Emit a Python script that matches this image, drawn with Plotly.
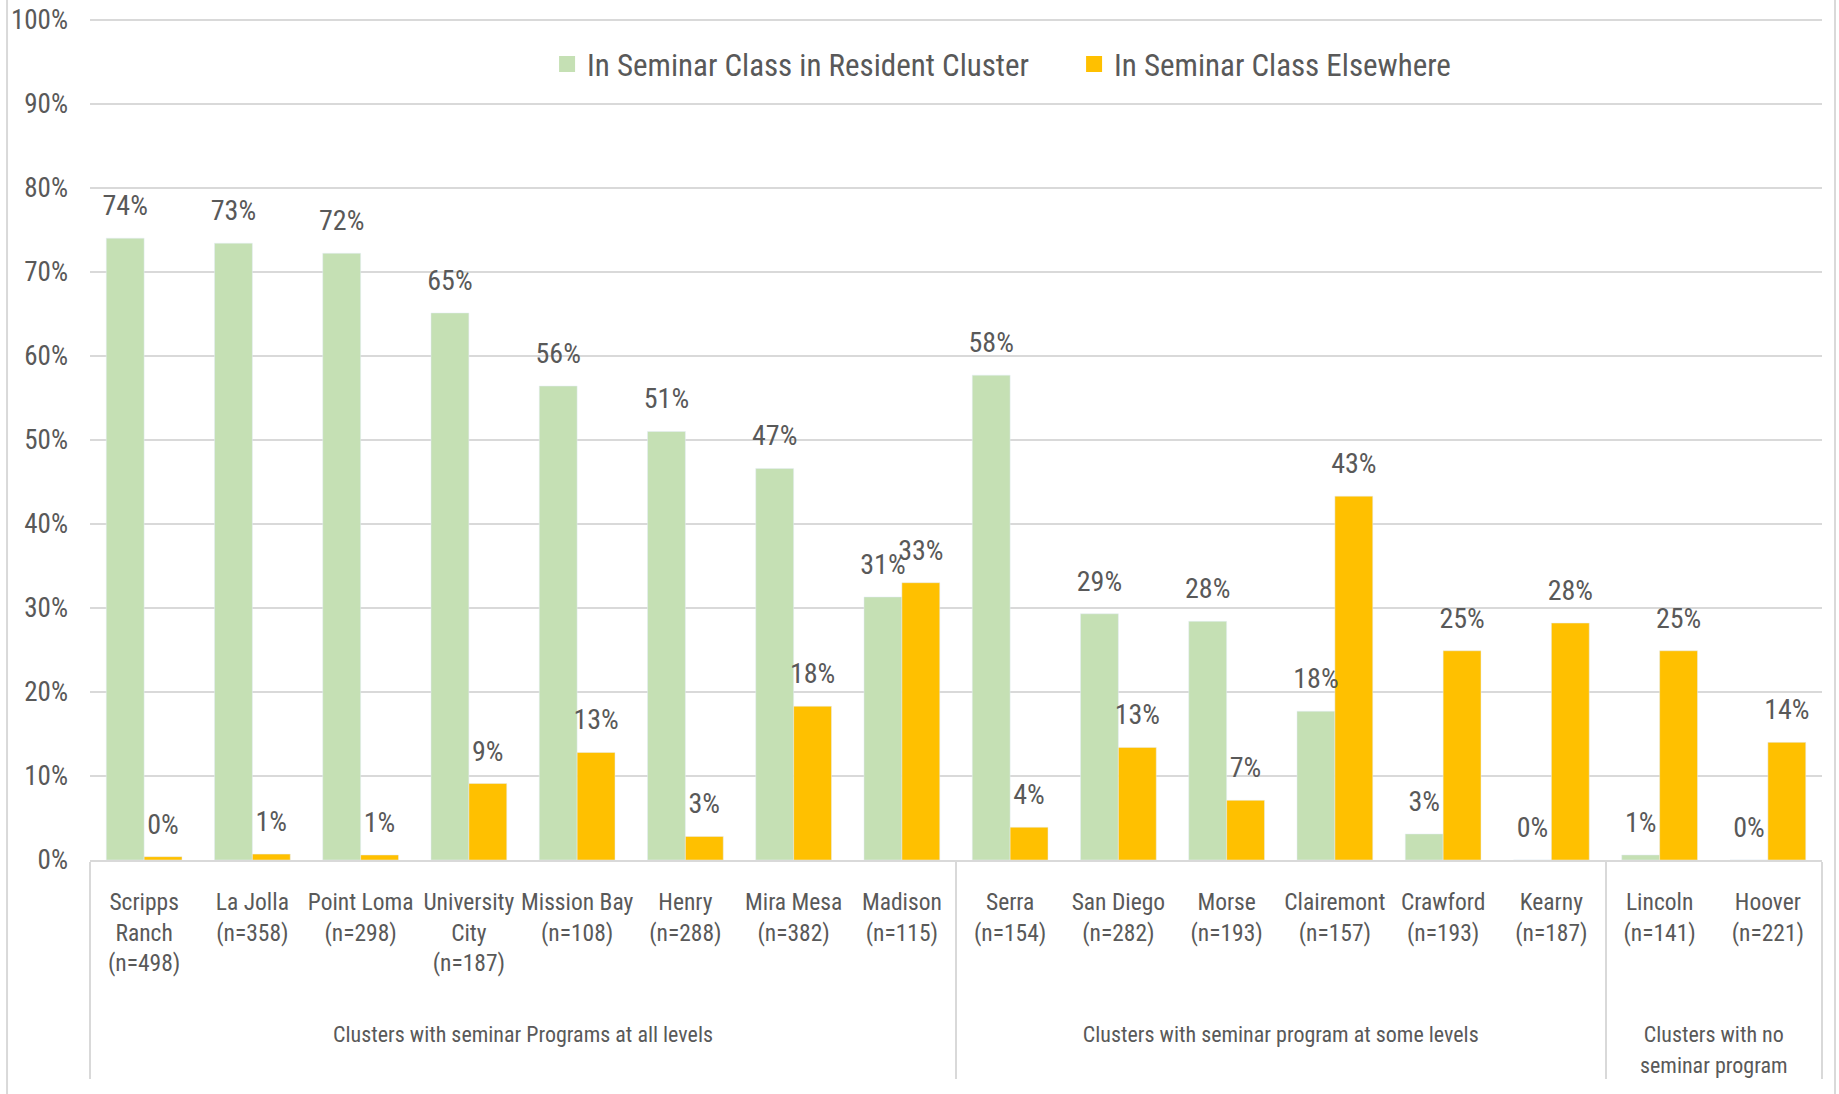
import plotly.graph_objects as go

groups = (["Clusters with seminar Programs at all levels"] * 8
          + ["Clusters with seminar program at some levels"] * 6
          + ["Clusters with no<br>seminar program"] * 2)
clusters = ["Scripps<br>Ranch", "La Jolla", "Point Loma", "University<br>City", "Mission Bay",
            "Henry", "Mira Mesa", "Madison", "Serra", "San Diego", "Morse", "Clairemont",
            "Crawford", "Kearny", "Lincoln", "Hoover"]
n_sizes = [498, 358, 298, 187, 108, 288, 382, 115, 154, 282, 193, 157, 193, 187, 141, 221]

resident = [0.740, 0.734, 0.722, 0.651, 0.564, 0.510, 0.466, 0.313, 0.577, 0.293,
            0.284, 0.177, 0.031, 0.0, 0.006, 0.0]
elsewhere = [0.004, 0.007, 0.006, 0.091, 0.128, 0.028, 0.183, 0.330, 0.039, 0.134,
             0.071, 0.433, 0.249, 0.282, 0.249, 0.140]

series_names = ["In Seminar Class in Resident Cluster", "In Seminar Class Elsewhere"]
series_colors = ["#C5E0B4", "#FFC000"]

FONT = "Roboto Condensed, Liberation Sans Narrow, DejaVu Sans Condensed, sans-serif"
TXT = "#595959"
GRID = "#D9D9D9"


def small(text, size=22):
    return "<br>".join(f"<span style='font-size:{size}px'>{part}</span>" for part in text.split("<br>"))


labels = [f"{c}<br>(n={n})<br> <br> " for c, n in zip(clusters, n_sizes)]
x = [[small(g) for g in groups], labels]

fig = go.Figure()
for name, vals, col in zip(series_names, [resident, elsewhere], series_colors):
    fig.add_trace(go.Bar(x=x, y=vals, name=name, marker=dict(color=col), showlegend=False))
for name, vals in zip(series_names, [resident, elsewhere]):
    fig.add_trace(go.Scatter(
        x=x, y=vals, mode="markers+text", showlegend=False, hoverinfo="skip",
        marker=dict(size=24, color="rgba(0,0,0,0)"),
        text=[f"{v:.0%}" for v in vals], textposition="top center",
        textfont=dict(family=FONT, size=28, color=TXT), cliponaxis=False,
    ))
# legend keys (square swatches) on a hidden overlay axis
for name, col in zip(series_names, series_colors):
    fig.add_trace(go.Scatter(
        x=[None], y=[None], mode="markers", name=name, xaxis="x2", yaxis="y2",
        marker=dict(symbol="square", size=16, color=col), hoverinfo="skip",
    ))

fig.update_layout(
    width=1839, height=1094,
    margin=dict(l=90, r=17, t=18, b=234),
    paper_bgcolor="white", plot_bgcolor="white",
    barmode="group", bargap=0.3, bargroupgap=0,
    scattermode="group", scattergap=0.3,
    font=dict(family=FONT, color=TXT, size=23.5),
    legend=dict(orientation="h", x=0.2639, xanchor="left", y=0.945, yanchor="middle",
                font=dict(family=FONT, size=31, color=TXT), bgcolor="rgba(0,0,0,0)",
                entrywidth=482, entrywidthmode="pixels", traceorder="normal"),
    xaxis2=dict(overlaying="x", visible=False),
    yaxis2=dict(overlaying="y", visible=False),
    shapes=[
        dict(type="line", xref="paper", yref="paper", x0=-0.0479, x1=-0.0479, y0=-0.3, y1=1.05,
             line=dict(color=GRID, width=2)),
        dict(type="line", xref="paper", yref="paper", x0=1.0075, x1=1.0075, y0=-0.3, y1=1.05,
             line=dict(color=GRID, width=2)),
    ],
    yaxis=dict(range=[0, 1.002], dtick=0.1, tickformat=".0%", showgrid=True, gridcolor=GRID,
               gridwidth=1.5, zeroline=False, showline=False, ticks="", automargin=False,
               ticklabeloverflow="allow",
               tickfont=dict(family=FONT, size=27, color=TXT), ticklabelstandoff=21),
    xaxis=dict(type="multicategory", showline=True, linecolor=GRID, linewidth=2,
               showdividers=True, dividercolor=GRID, dividerwidth=1.5, ticks="",
               tickangle=0, automargin=False, ticklabelstandoff=20, ticklabeloverflow="allow",
               tickfont=dict(family=FONT, size=23.5, color=TXT)),
)

fig.write_html("out.html", config={"displayModeBar": False},
               post_script="document.body.style.margin='0';")
